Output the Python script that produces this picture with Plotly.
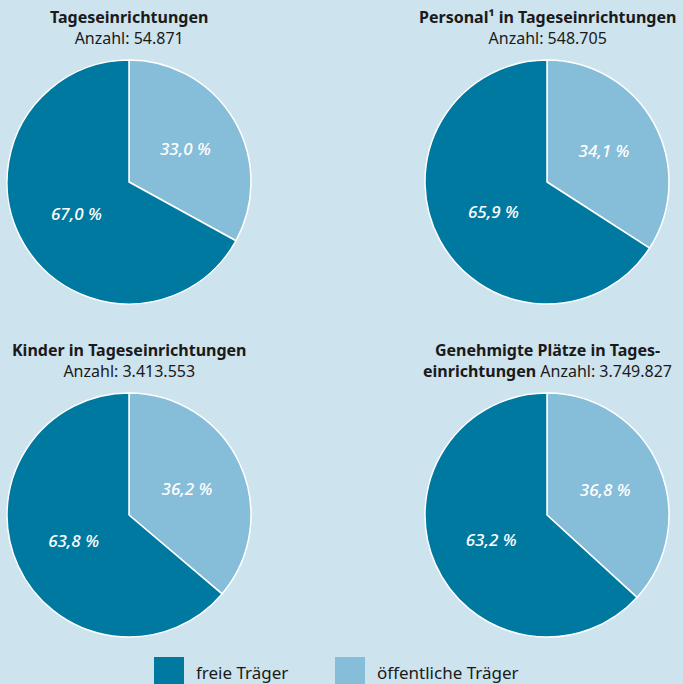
import plotly.graph_objects as go

categories = ["freie Träger", "öffentliche Träger"]
titles_bold = ["Tageseinrichtungen", "Personal¹ in Tageseinrichtungen",
               "Kinder in Tageseinrichtungen", "Genehmigte Plätze in Tages-<br>einrichtungen"]
counts = ["54.871", "548.705", "3.413.553", "3.749.827"]
tageseinrichtungen = [67.0, 33.0]
personal = [65.9, 34.1]
kinder = [63.8, 36.2]
plaetze = [63.2, 36.8]

W, H = 683, 684
BG = "#cde3ee"
DARK = "#0079a1"
LIGHT = "#86bdd8"
FONT = "Noto Sans"

def px(x0, x1):
    return [x0 / W, x1 / W]

def py(top, bottom):
    return [1 - bottom / H, 1 - top / H]

domains = [
    (px(7, 251), py(60, 304)),
    (px(425, 669), py(60, 304)),
    (px(7, 251), py(393, 637)),
    (px(425, 669), py(393, 637)),
]
series = [tageseinrichtungen, personal, kinder, plaetze]

fig = go.Figure()
for vals, (dx, dy) in zip(series, domains):
    # öffentliche Träger first so that it starts at 12 o'clock going clockwise
    fig.add_trace(go.Pie(
        labels=categories[::-1], values=vals[::-1], sort=False, direction="clockwise",
        rotation=0, domain=dict(x=dx, y=dy),
        marker=dict(colors=[LIGHT, DARK], line=dict(color="white", width=1.5)),
        texttemplate="%{value:.1f} %", textposition="inside",
        insidetextorientation="horizontal",
        textfont=dict(family=FONT, size=17, color="white", style="italic", weight=500),
        showlegend=False, hoverinfo="label+value",
    ))

annotations = []
# titles
for i, (tb, cnt) in enumerate(zip(titles_bold, counts)):
    cx = 129 if i % 2 == 0 else 547
    top = 4 if i < 2 else 337
    if i == 3:
        text = "<b>Genehmigte Plätze in Tages-</b><br><b>einrichtungen</b> Anzahl: " + cnt
    else:
        text = "<b>" + tb + "</b><br>Anzahl: " + cnt
    annotations.append(dict(
        x=cx / W, y=1 - top / H, xref="paper", yref="paper",
        xanchor="center", yanchor="top", showarrow=False, align="center",
        text=text, font=dict(family=FONT, size=16, color="#1a1a1a"),
    ))

# legend
shapes = [
    dict(type="rect", xref="paper", yref="paper", x0=154 / W, x1=184 / W,
         y0=0, y1=1 - 657 / H, fillcolor=DARK, line=dict(width=0)),
    dict(type="rect", xref="paper", yref="paper", x0=335 / W, x1=365 / W,
         y0=0, y1=1 - 657 / H, fillcolor=LIGHT, line=dict(width=0)),
]
for xs, lab in [(194, categories[0]), (375, categories[1])]:
    annotations.append(dict(
        x=xs / W, y=1 - 672 / H, xref="paper", yref="paper",
        xanchor="left", yanchor="middle", showarrow=False,
        text=lab, font=dict(family=FONT, size=17, color="#1a1a1a"),
    ))

fig.update_layout(
    width=W, height=H, margin=dict(l=0, r=0, t=0, b=0),
    paper_bgcolor=BG, plot_bgcolor=BG, separators=",.",
    annotations=annotations, shapes=shapes, showlegend=False,
)
fig.write_html("out.html", config={"displayModeBar": False},
               post_script="document.body.style.margin='0';document.body.style.overflow='hidden';")
